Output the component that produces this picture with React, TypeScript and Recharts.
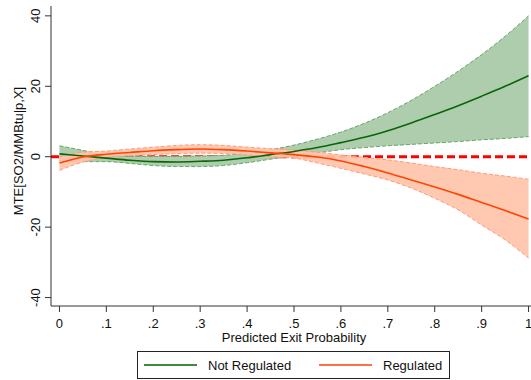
import {
  Area,
  ComposedChart,
  Label,
  Legend,
  Line,
  ReferenceLine,
  XAxis,
  YAxis,
} from "recharts";

// predicted exit probability grid
const exitProb = [
  0, 0.05, 0.1, 0.15, 0.2, 0.25, 0.3, 0.35, 0.4, 0.45, 0.5, 0.55, 0.6, 0.65,
  0.7, 0.75, 0.8, 0.85, 0.9, 0.95, 1,
];

// MTE estimates and 95% bands, not regulated plants
const notReg = [
  0.8, 0.2, -0.4, -1.0, -1.4, -1.5, -1.3, -1.0, -0.3, 0.6, 1.5, 2.6, 4.0, 5.5,
  7.4, 9.6, 12.0, 14.5, 17.2, 20.0, 23.0,
];
const notRegHi = [
  3.1, 1.8, 0.4, 0.1, 0.1, 0.1, 0.2, 0.4, 1.0, 2.0, 3.3, 5.0, 7.0, 9.5, 12.5,
  16.0, 20.0, 24.3, 29.0, 34.2, 40.0,
];
const notRegLo = [
  -1.3, -1.4, -1.4, -1.9, -2.5, -2.8, -2.8, -2.5, -1.7, -0.7, 0.3, 1.1, 2.0,
  2.6, 3.1, 3.5, 3.9, 4.3, 4.8, 5.2, 5.7,
];

// regulated plants
const reg = [
  -1.8, -0.1, 0.7, 1.2, 1.7, 2.0, 2.2, 2.0, 1.6, 1.1, 0.6, -0.1, -1.2, -2.8,
  -4.6, -6.6, -8.6, -10.7, -13.0, -15.3, -17.7,
];
const regHi = [
  0.0, 1.3, 1.6, 2.2, 2.7, 3.2, 3.4, 3.2, 2.7, 2.3, 1.9, 1.3, 0.5, -0.2, -0.9,
  -1.8, -2.8, -3.7, -4.7, -5.5, -6.4,
];
const regLo = [
  -3.9, -1.5, -0.2, 0.3, 0.6, 0.9, 1.0, 0.9, 0.5, 0.0, -0.4, -1.8, -3.3, -4.9,
  -6.6, -8.9, -11.8, -15.1, -19.4, -23.6, -28.8,
];

const xTicks = [0, 0.1, 0.2, 0.3, 0.4, 0.5, 0.6, 0.7, 0.8, 0.9, 1];
const yTicks = [-40, -20, 0, 20, 40];

const data = exitProb.map((x, i) => ({
  x,
  notReg: notReg[i],
  notRegBand: [notRegLo[i], notRegHi[i]],
  reg: reg[i],
  regBand: [regLo[i], regHi[i]],
}));

const font = "Arial, 'Liberation Sans', sans-serif";
const axisColor = "#333";

const fmtX = (v: number) =>
  v === 0 ? "0" : v === 1 ? "1" : v.toFixed(1).replace(/^0/, "");

function YTick(props: any) {
  const { x, y, payload } = props;
  return (
    <text
      transform={`translate(${x}, ${y}) rotate(-90)`}
      textAnchor="middle"
      fontSize={13}
      fontFamily={font}
      fill="#111">
      {payload.value}
    </text>
  );
}

function YTitle(props: any) {
  const vb = props.viewBox;
  const cy = vb.y + vb.height / 2 - 5;
  return (
    <text
      transform={`translate(${vb.x + 23}, ${cy}) rotate(-90)`}
      textAnchor="middle"
      fontSize={13}
      fontFamily={font}
      fill="#111">
      MTE[SO2/MMBtu|p,X]
    </text>
  );
}

function LegendBox() {
  const items = [
    { name: "Not Regulated", color: "#3d8b3d", left: 6 },
    { name: "Regulated", color: "#ff7043", left: 181 },
  ];
  return (
    <div
      style={{
        position: "relative",
        width: 313,
        height: 28,
        boxSizing: "border-box",
        border: "1px solid #222",
        background: "#fff",
        fontFamily: font,
        fontSize: 13,
        color: "#111",
      }}>
      {items.map((it) => (
        <div
          key={it.name}
          style={{
            position: "absolute",
            left: it.left,
            top: 0,
            height: 26,
            display: "flex",
            alignItems: "center",
          }}>
          <svg width={53} height={4} style={{ display: "block" }}>
            <line x1={0} y1={2} x2={53} y2={2} stroke={it.color} strokeWidth={2} />
          </svg>
          <span style={{ marginLeft: 11 }}>{it.name}</span>
        </div>
      ))}
    </div>
  );
}

export default function App() {
  return (
    <div
      style={{
        position: "absolute",
        left: 0,
        top: 0,
        width: 531,
        height: 380,
        overflow: "hidden",
        background: "#fff",
      }}>
      <ComposedChart
        width={545}
        height={380}
        data={data}
        margin={{ top: 6, right: 8, bottom: 0, left: 0 }}>
        <XAxis
          xAxisId="top"
          orientation="top"
          type="number"
          dataKey="x"
          domain={[-0.018, 1.018]}
          height={0}
          tick={false}
          tickLine={false}
          stroke={axisColor}
        />
        <XAxis
          type="number"
          dataKey="x"
          domain={[-0.018, 1.018]}
          ticks={xTicks}
          tickFormatter={fmtX}
          height={74}
          tickSize={6}
          tickMargin={7}
          stroke={axisColor}
          tick={{ fontSize: 13, fontFamily: font, fill: "#111" }}>
          <Label
            value="Predicted Exit Probability"
            position="insideBottom"
            offset={38}
            style={{ fontSize: 13, fontFamily: font, fill: "#111" }}
          />
        </XAxis>
        <YAxis
          type="number"
          domain={[-42.4, 42.8]}
          ticks={yTicks}
          width={51}
          tickSize={6}
          tickMargin={5}
          stroke={axisColor}
          tick={<YTick />}>
          <Label content={<YTitle />} />
        </YAxis>

        {/* zero line sits underneath the confidence bands */}
        <ReferenceLine
          y={0}
          stroke="#ff0000"
          strokeWidth={3}
          strokeDasharray="8 4"
          zIndex={50}
        />

        <Area
          type="monotone"
          dataKey="notRegBand"
          fill="#adcdad"
          fillOpacity={1}
          stroke="#6aa66a"
          strokeDasharray="4 2"
          strokeWidth={1}
          isAnimationActive={false}
          legendType="none"
        />
        <Area
          type="monotone"
          dataKey="regBand"
          fill="#ffc3aa"
          fillOpacity={0.92}
          stroke="#ff9b7b"
          strokeDasharray="4 2"
          strokeWidth={1}
          isAnimationActive={false}
          legendType="none"
        />
        <Line
          type="monotone"
          dataKey="notReg"
          name="Not Regulated"
          stroke="#0a640a"
          strokeWidth={1.6}
          dot={false}
          isAnimationActive={false}
        />
        <Line
          type="monotone"
          dataKey="reg"
          name="Regulated"
          stroke="#ff4500"
          strokeWidth={1.6}
          dot={false}
          isAnimationActive={false}
        />

        <Legend
          layout="horizontal"
          align="center"
          verticalAlign="middle"
          wrapperStyle={{ left: 137, top: 351, width: 313, height: 28 }}
          content={<LegendBox />}
        />
      </ComposedChart>
    </div>
  );
}
